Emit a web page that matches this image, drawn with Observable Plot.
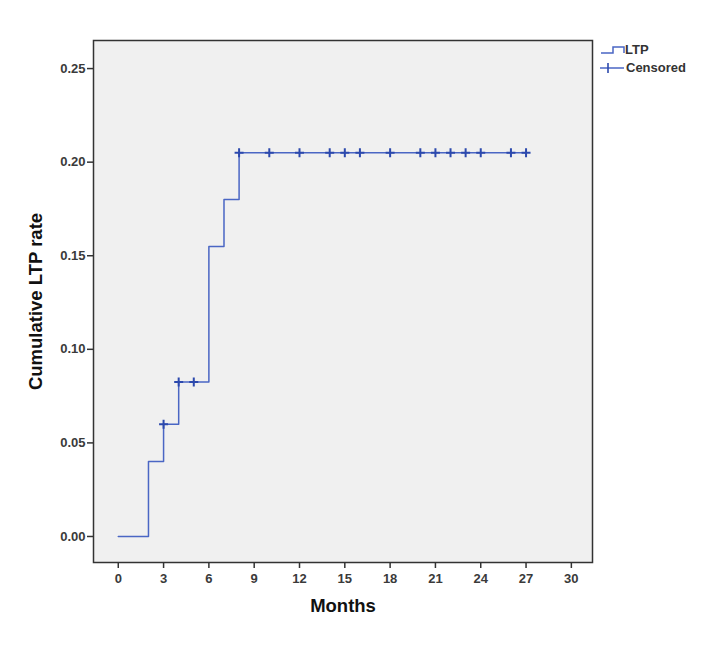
<!DOCTYPE html>
<html>
<head>
<meta charset="utf-8">
<script src="https://cdn.jsdelivr.net/npm/d3@7"></script>
<script src="https://cdn.jsdelivr.net/npm/@observablehq/plot@0.6"></script>
<style>
  html, body { margin: 0; padding: 0; background: #fff; }
  #wrap { position: relative; width: 702px; height: 662px; }
  #legend { position: absolute; left: 598px; top: 40px; font-family: "Liberation Sans", Arial, sans-serif; font-weight: bold; font-size: 13px; color: #333; }
</style>
</head>
<body>
<div id="wrap"></div>
<script>
// Step curve (cumulative LTP rate)
const stepMonths = [0, 2, 3, 4, 6, 7, 8, 27];
const stepRates = [0, 0.04, 0.06, 0.0825, 0.155, 0.18, 0.205, 0.205];
// Censored observations
const censoredMonths = [3, 4, 5, 8, 10, 12, 14, 15, 16, 18, 20, 21, 22, 23, 24, 26, 27];
const censoredRates = [0.06, 0.0825, 0.0825, 0.205, 0.205, 0.205, 0.205, 0.205, 0.205, 0.205, 0.205, 0.205, 0.205, 0.205, 0.205, 0.205, 0.205];
// Ticks
const xTicks = [0, 3, 6, 9, 12, 15, 18, 21, 24, 27, 30];
const yTicks = [0, 0.05, 0.10, 0.15, 0.20, 0.25];
const xTitle = "Months";
const yTitle = "Cumulative LTP rate";
const seriesNames = ["LTP", "Censored"];

const steps = stepMonths.map((m, i) => ({month: m, rate: stepRates[i]}));
const censored = censoredMonths.map((m, i) => ({month: m, rate: censoredRates[i]}));

const lineColor = "#4a66c4";
const censorColor = "#2c49ad";

const chart = Plot.plot({
  width: 702,
  height: 662,
  marginLeft: 93,
  marginRight: 110,
  marginTop: 40,
  marginBottom: 100,
  x: {domain: [-1.64, 31.4]},
  y: {domain: [-0.0139, 0.265]},
  style: {fontFamily: "'Liberation Sans', Arial, sans-serif", fontSize: "13px", background: "#fff", color: "#3a3a3a"},
  marks: [
    Plot.frame({fill: "#f0f0f0"}),
    Plot.axisX({ticks: xTicks, tickSize: 6, tickPadding: 5, label: null, fontWeight: "bold", stroke: "#333", strokeWidth: 1.5}),
    Plot.axisY({ticks: yTicks, tickSize: 6, tickPadding: 2, tickFormat: d => d.toFixed(2), label: null, fontWeight: "bold", stroke: "#333", strokeWidth: 1.5}),
    Plot.line(steps, {x: "month", y: "rate", curve: "step-after", stroke: lineColor, strokeWidth: 1.5}),
    Plot.dot(censored, {x: "month", y: "rate", symbol: "plus", stroke: censorColor, strokeWidth: 2, r: 3}),
    Plot.frame({stroke: "#333", strokeWidth: 1.5}),
    Plot.text([xTitle], {text: d => d, frameAnchor: "bottom", dy: 49, fontSize: 18.5, fontWeight: "bold", fill: "#111"}),
    Plot.text([yTitle], {text: d => d, frameAnchor: "left", textAnchor: "middle", rotate: -90, dx: -57, fontSize: 18.5, fontWeight: "bold", fill: "#111"})
  ]
});
const wrap = document.getElementById("wrap");
wrap.appendChild(chart);

// Legend
const legend = document.createElement("div");
legend.id = "legend";
legend.innerHTML = `
<svg width="104" height="40" style="display:block;overflow:visible">
  <path d="M3,13 H15 V7 H26 V13" fill="none" stroke="${lineColor}" stroke-width="1.5"/>
  <text x="27" y="14" fill="#333" font-size="13" font-weight="bold">${seriesNames[0]}</text>
  <line x1="2" x2="26" y1="28" y2="28" stroke="${lineColor}" stroke-width="1.5"/>
  <line x1="10" x2="10" y1="23" y2="33" stroke="${censorColor}" stroke-width="1.6"/>
  <text x="28" y="32" fill="#333" font-size="13" font-weight="bold">${seriesNames[1]}</text>
</svg>`;
wrap.appendChild(legend);
</script>
</body>
</html>
